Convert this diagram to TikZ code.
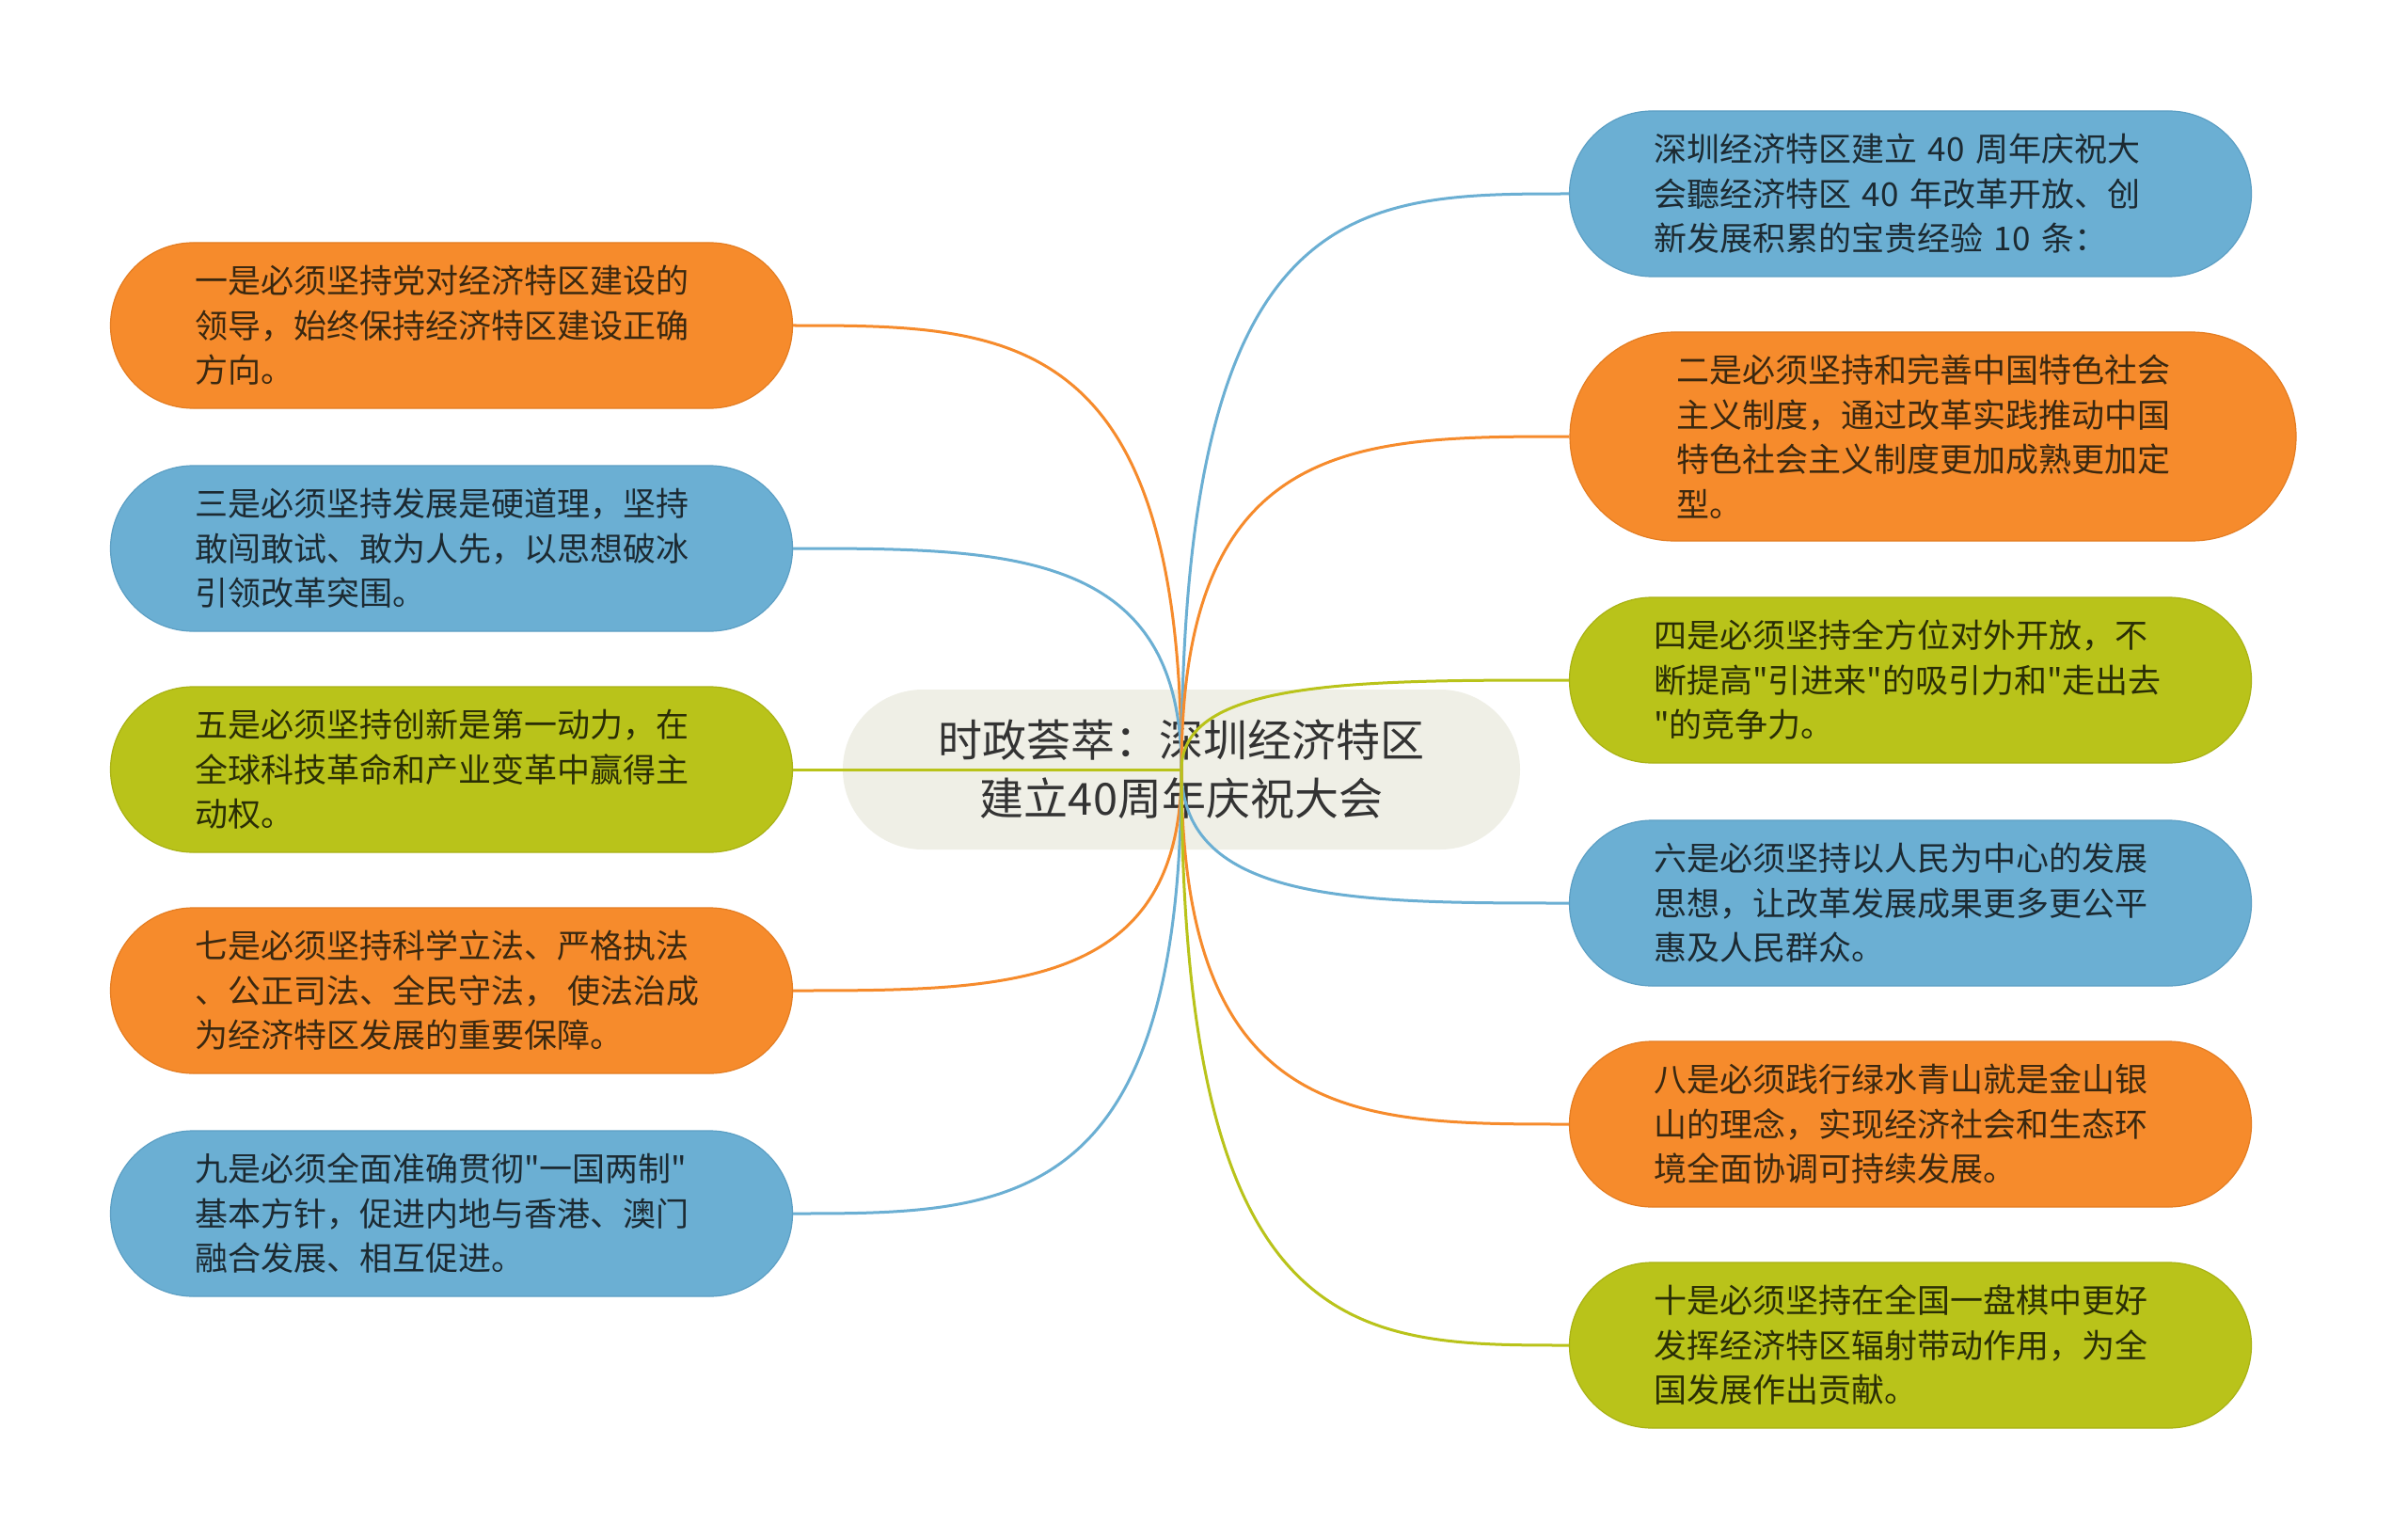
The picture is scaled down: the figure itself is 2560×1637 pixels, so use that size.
\documentclass[tikz,border=0pt]{standalone}
\usepackage{fontspec}
\setmainfont{Noto Sans CJK SC}[Ligatures=TeXOff]
\usetikzlibrary{calc}
\definecolor{corange}{HTML}{F68B2C}
\definecolor{corangeD}{HTML}{E47D22}
\definecolor{cblue}{HTML}{6BAFD3}
\definecolor{cblueD}{HTML}{5C9FC4}
\definecolor{cgreen}{HTML}{B9C31A}
\definecolor{cgreenD}{HTML}{A9B214}
\definecolor{ccenter}{HTML}{EFEFE6}
\definecolor{ctO}{HTML}{3A2810}
\definecolor{ctB}{HTML}{1C2A32}
\definecolor{ctG}{HTML}{2A2E06}
\definecolor{ctC}{HTML}{333333}
\begin{document}
\begin{tikzpicture}[x=1pt,y=-1pt,
  leaf/.style={rounded corners=88pt, minimum width=725pt, minimum height=176pt,
    inner sep=0pt, text width=546pt, align=left, line width=1.2pt,
    font=\fontsize{35}{47.5}\selectfont},
  oleaf/.style={leaf, fill=corange, draw=corangeD, text=ctO},
  bleaf/.style={leaf, fill=cblue, draw=cblueD, text=ctB},
  gleaf/.style={leaf, fill=cgreen, draw=cgreenD, text=ctG},
  conn/.style={line width=3pt},
  centerbox/.style={rounded corners=85pt, minimum width=720pt, minimum height=170pt,
    inner sep=0pt, fill=ccenter, text=ctC, align=center,
    font=\fontsize{47}{62}\selectfont}
]
\fill[white] (0,0) rectangle (2560,1637);
\useasboundingbox (0,0) rectangle (2560,1637);

\node[centerbox] (center) at (1256,818) {时政荟萃：深圳经济特区\\建立40周年庆祝大会};
\coordinate (hub) at (center.center);

% left
\node[oleaf] (n1) at (480,346) {一是必须坚持党对经济特区建设的\\领导，始终保持经济特区建设正确\\方向。};
\node[bleaf] (n3) at (480,583) {三是必须坚持发展是硬道理，坚持\\敢闯敢试、敢为人先，以思想破冰\\引领改革突围。};
\node[gleaf] (n5) at (480,818) {五是必须坚持创新是第一动力，在\\全球科技革命和产业变革中赢得主\\动权。};
\node[oleaf] (n7) at (480,1053) {七是必须坚持科学立法、严格执法\\、公正司法、全民守法， 使法治成\\为经济特区发展的重要保障。};
\node[bleaf] (n9) at (480,1290) {九是必须全面准确贯彻"一国两制"\\基本方针，促进内地与香港、澳门\\融合发展、相互促进。};

% right
\node[bleaf] (n0) at (2031,206) {深圳经济特区建立 40 周年庆祝大\\会聽经济特区 40 年改革开放、创\\新发展积累的宝贵经验 10 条：};
\node[oleaf, minimum width=772pt, minimum height=222pt, rounded corners=111pt] (n2) at (2055,464) {二是必须坚持和完善中国特色社会\\主义制度，通过改革实践推动中国\\特色社会主义制度更加成熟更加定\\型。};
\node[gleaf] (n4) at (2031,723) {四是必须坚持全方位对外开放，不\\断提高"引进来"的吸引力和"走出去\\"的竞争力。};
\node[bleaf] (n6) at (2031,960) {六是必须坚持以人民为中心的发展\\思想，让改革发展成果更多更公平\\惠及人民群众。};
\node[oleaf] (n8) at (2031,1195) {八是必须践行绿水青山就是金山银\\山的理念，实现经济社会和生态环\\境全面协调可持续发展。};
\node[gleaf] (n10) at (2031,1430) {十是必须坚持在全国一盘棋中更好\\发挥经济特区辐射带动作用，为全\\国发展作出贡献。};

% connectors
\draw[conn, corange] (hub) .. controls (hub|-n1.east) and ($(hub|-n1.east)!0.45!(n1.east)$) .. (n1.east);
\draw[conn, cblue] (hub) .. controls (hub|-n3.east) and ($(hub|-n3.east)!0.45!(n3.east)$) .. (n3.east);
\draw[conn, cgreen] (hub) -- (n5.east);
\draw[conn, corange] (hub) .. controls (hub|-n7.east) and ($(hub|-n7.east)!0.45!(n7.east)$) .. (n7.east);
\draw[conn, cblue] (hub) .. controls (hub|-n9.east) and ($(hub|-n9.east)!0.45!(n9.east)$) .. (n9.east);
\draw[conn, cblue] (hub) .. controls (hub|-n0.west) and ($(hub|-n0.west)!0.45!(n0.west)$) .. (n0.west);
\draw[conn, corange] (hub) .. controls (hub|-n2.west) and ($(hub|-n2.west)!0.45!(n2.west)$) .. (n2.west);
\draw[conn, cgreen] (hub) .. controls (hub|-n4.west) and ($(hub|-n4.west)!0.45!(n4.west)$) .. (n4.west);
\draw[conn, cblue] (hub) .. controls (hub|-n6.west) and ($(hub|-n6.west)!0.45!(n6.west)$) .. (n6.west);
\draw[conn, corange] (hub) .. controls (hub|-n8.west) and ($(hub|-n8.west)!0.45!(n8.west)$) .. (n8.west);
\draw[conn, cgreen] (hub) .. controls (hub|-n10.west) and ($(hub|-n10.west)!0.45!(n10.west)$) .. (n10.west);
\end{tikzpicture}
\end{document}
